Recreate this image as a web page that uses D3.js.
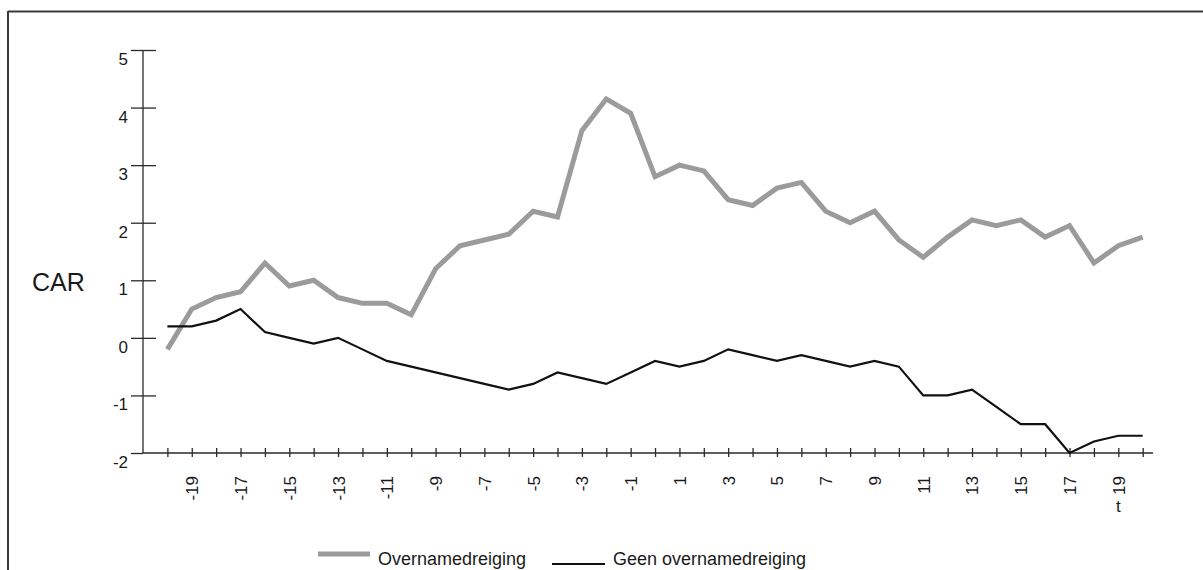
<!DOCTYPE html>
<html>
<head>
<meta charset="utf-8">
<script src="https://cdn.jsdelivr.net/npm/d3@7/dist/d3.min.js"></script>
<style>
  html, body { margin: 0; padding: 0; background: #ffffff; }
  svg { display: block; font-family: "Liberation Sans", Arial, Helvetica, sans-serif; }
</style>
</head>
<body>
<svg id="chart" width="1203" height="570"></svg>
<script>
// ---- data ----
const days = d3.range(-20, 21);
const overname = [-0.2, 0.5, 0.7, 0.8, 1.3, 0.9, 1.0, 0.7, 0.6, 0.6,
                  0.4, 1.2, 1.6, 1.7, 1.8, 2.2, 2.1, 3.6, 4.15, 3.9,
                  2.8, 3.0, 2.9, 2.4, 2.3, 2.6, 2.7, 2.2, 2.0, 2.2,
                  1.7, 1.4, 1.75, 2.05, 1.95, 2.05, 1.75, 1.95, 1.3, 1.6, 1.75];
const geenOvername = [0.2, 0.2, 0.3, 0.5, 0.1, 0.0, -0.1, 0.0, -0.2, -0.4,
                      -0.5, -0.6, -0.7, -0.8, -0.9, -0.8, -0.6, -0.7, -0.8, -0.6,
                      -0.4, -0.5, -0.4, -0.2, -0.3, -0.4, -0.3, -0.4, -0.5, -0.4,
                      -0.5, -1.0, -1.0, -0.9, -1.2, -1.5, -1.5, -2.0, -1.8, -1.7, -1.7];
const yTicks = [-2, -1, 0, 1, 2, 3, 4, 5];
const xTickLabels = [-19, -17, -15, -13, -11, -9, -7, -5, -3, -1, 1, 3, 5, 7, 9, 11, 13, 15, 17, 19];
const seriesNames = ["Overnamedreiging", "Geen overnamedreiging"];

const svg = d3.select("#chart");

// frame
svg.append("line").attr("x1", 8).attr("x2", 1203).attr("y1", 11.5).attr("y2", 11.5)
  .attr("stroke", "#3a3a3a").attr("stroke-width", 2);
svg.append("line").attr("x1", 8).attr("x2", 8).attr("y1", 11).attr("y2", 570)
  .attr("stroke", "#3a3a3a").attr("stroke-width", 2);

const x = d3.scaleLinear().domain([-21, 20]).range([143, 1142.7]);
const y = d3.scaleLinear().domain([-2, 5]).range([453, 50]);

const axisColor = "#2a2a2a";
const textColor = "#1a1a1a";

// y axis
const gy = svg.append("g").attr("transform", `translate(${x(-21)},0)`)
  .call(d3.axisLeft(y).tickValues(yTicks).tickSize(12).tickPadding(3).tickFormat(d => String(d)));
gy.select(".domain").attr("stroke", axisColor).attr("stroke-width", 1.3).attr("d", `M0,${y(5)}V${y(-2)}`);
gy.selectAll(".tick line").attr("x1", -12).attr("x2", d => d === -2 ? 0 : 13)
  .attr("stroke", axisColor).attr("stroke-width", 1.3);
gy.selectAll(".tick text").attr("font-size", 17).attr("fill", textColor).attr("dy", "0.85em")
  .attr("font-family", "Liberation Sans, Arial, sans-serif");

// x axis
const gx = svg.append("g").attr("transform", `translate(0,${y(-2)})`)
  .call(d3.axisBottom(x).tickValues(days).tickSize(5)
    .tickFormat(d => xTickLabels.includes(d) ? String(d) : ""));
gx.select(".domain").attr("stroke", axisColor).attr("stroke-width", 1.3).attr("d", `M${x(-21)},0H1153`);
gx.selectAll(".tick line").attr("y1", -5).attr("y2", 4).attr("stroke", axisColor).attr("stroke-width", 1.3);
gx.selectAll(".tick text").attr("font-size", 17).attr("fill", textColor)
  .attr("font-family", "Liberation Sans, Arial, sans-serif")
  .attr("transform", "rotate(-90)").attr("text-anchor", "end")
  .attr("x", -23).attr("y", 0).attr("dy", "0.35em");

svg.append("text").attr("x", x(19)).attr("y", 512).attr("text-anchor", "middle")
  .attr("font-size", 17).attr("fill", textColor).text("t");

// y axis title
svg.append("text").attr("x", 32).attr("y", 291).attr("font-size", 25).attr("fill", textColor).text("CAR");

// lines
const line = d3.line().x((d, i) => x(days[i])).y(d => y(d));
svg.append("path").datum(overname).attr("d", line).attr("fill", "none")
  .attr("stroke", "#9b9b9b").attr("stroke-width", 5).attr("stroke-linejoin", "miter");
svg.append("path").datum(geenOvername).attr("d", line).attr("fill", "none")
  .attr("stroke", "#111").attr("stroke-width", 2.2).attr("stroke-linejoin", "miter");

// legend
const lg = svg.append("g");
lg.append("line").attr("x1", 318).attr("x2", 370).attr("y1", 554).attr("y2", 554)
  .attr("stroke", "#9b9b9b").attr("stroke-width", 5);
lg.append("text").attr("x", 378).attr("y", 565).attr("font-size", 18).attr("fill", textColor).text(seriesNames[0]);
lg.append("line").attr("x1", 552).attr("x2", 605).attr("y1", 564).attr("y2", 564)
  .attr("stroke", "#111").attr("stroke-width", 2.2);
lg.append("text").attr("x", 613).attr("y", 565).attr("font-size", 18).attr("fill", textColor).text(seriesNames[1]);
</script>
</body>
</html>
